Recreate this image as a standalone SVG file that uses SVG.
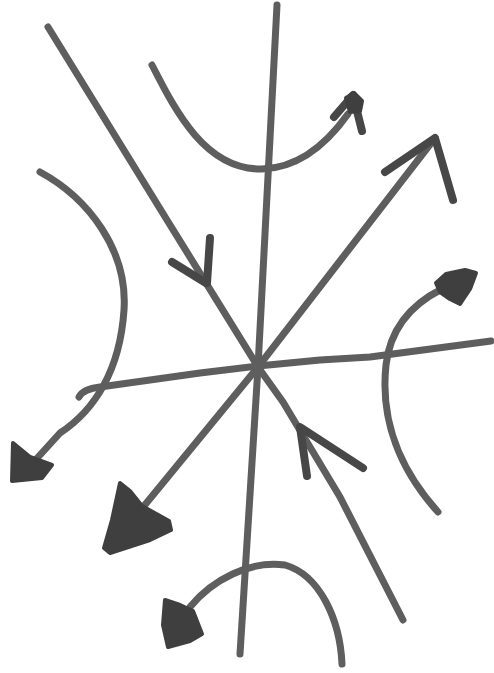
<svg xmlns="http://www.w3.org/2000/svg" width="494" height="673" viewBox="0 0 494 673">
<style>
.ln{fill:none;stroke:#5e5e5e;stroke-width:7;stroke-linecap:round;stroke-linejoin:round}
.ah{fill:none;stroke:#474747;stroke-width:8;stroke-linecap:round;stroke-linejoin:round}
.hd{fill:#3f3f3f;stroke:#3f3f3f;stroke-width:4;stroke-linejoin:round}
</style>
<rect width="494" height="673" fill="#ffffff"/>
<g id="axes">
<path id="vertical" class="ln" d="M277,5 L258,367 L240,654"/>
<path id="horizontal" class="ln" d="M79,397 Q83,389 100,387 L200,373 L258,366 L320,360 L370,357 L491,341"/>
</g>
<g id="connectors">
<g id="stable-manifold-upper">
<path class="ln" d="M48,27 L167,220 L258,367"/>
<path class="ah" d="M172,262 L206,283 M210,238 L207,283"/>
</g>
<g id="stable-manifold-lower">
<path class="ln" d="M258,367 L283,402 L340,497 L403,620"/>
<path class="ah" d="M307,476 L300,427 L363,468"/>
</g>
<g id="unstable-manifold">
<path class="ln" d="M112,545 L258,367 L435,138"/>
<path class="ah" d="M385,172 L435,138 L453,200"/>
<path class="hd" d="M120,483 L130,491 L142,506 L169,521 L171,530 L150,540 L110,553 L104,548 L112,520 Z"/>
</g>
<g id="trajectory-top">
<path class="ln" d="M152,65 C175,110 205,170 262,169 C300,168 328,142 348,114"/>
<path class="ah" d="M334,117 L353,95 L362,131"/>
<path class="hd" d="M346,98 L354,93 L362,101 L360,111 L350,112 Z"/>
</g>
<g id="trajectory-left">
<path class="ln" d="M40,172 C88,198 128,250 124,310 C120,370 95,410 60,433 L30,466"/>
<path class="hd" d="M13,443 L30,457 L52,465 L42,478 L12,481 Z"/>
</g>
<g id="trajectory-right">
<path class="ln" d="M438,512 C400,470 380,420 386,365 C390,330 410,305 442,289"/>
<path class="hd" d="M436,283 L446,274 L465,270 L476,273 L470,289 L460,304 L450,299 L440,292 Z"/>
</g>
<g id="trajectory-bottom">
<path class="ln" d="M342,664 C340,620 320,575 285,565 C250,560 212,580 190,607"/>
<path class="hd" d="M165,600 L180,605 L193,611 L202,634 L190,641 L168,647 L163,625 Z"/>
</g>
</g>
</svg>
